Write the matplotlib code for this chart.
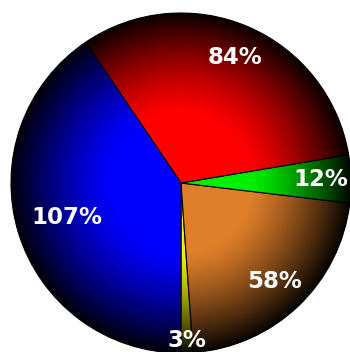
import matplotlib
matplotlib.use("Agg")
import matplotlib.pyplot as plt
import numpy as np
from matplotlib.patches import Circle

# wartosci wycinkow (przeciwnie do wskazowek zegara, od dolu)
wartosci = [3, 58, 12, 84, 107]
etykiety = ["3%", "58%", "12%", "84%", "107%"]
kolory = ["#f2f200", "#e07f2a", "#00f000", "#ff0000", "#0000ff"]
odleglosc_etykiet = [0.93, 0.80, 0.82, 0.80, 0.70]

fig = plt.figure(figsize=(3.5, 3.52), dpi=100)
ax = fig.add_axes([0, 0, 1, 1])

wycinki, _ = ax.pie(wartosci, colors=kolory, startangle=-90,
                    wedgeprops=dict(edgecolor="black", linewidth=0.8))

# cieniowanie promieniowe - ciemniej przy krawedzi kola
n = 400
xs = np.linspace(-1, 1, n)
X, Y = np.meshgrid(xs, xs)
R = np.sqrt(X**2 + Y**2)
alfa = np.clip((R - 0.40) / 0.60, 0, 1) ** 1.3 * 0.97
cien = np.zeros((n, n, 4))
cien[..., 3] = alfa
img = ax.imshow(cien, extent=[-1, 1, -1, 1], origin="lower", zorder=3,
                interpolation="bilinear")
kolo = Circle((0, 0), 1, transform=ax.transData)
img.set_clip_path(kolo)

# etykiety w srodku wycinkow
for w, tekst, r in zip(wycinki, etykiety, odleglosc_etykiet):
    kat = np.deg2rad((w.theta1 + w.theta2) / 2)
    ax.text(r * np.cos(kat), r * np.sin(kat), tekst, color="white",
            fontsize=16.5, fontweight="bold", ha="center", va="center", zorder=4)

ax.set_xlim(-181 / 170, 169 / 170)
ax.set_ylim(-169 / 170, 183 / 170)
ax.set_aspect("equal")
ax.axis("off")

fig.savefig("out.png", dpi=100)
